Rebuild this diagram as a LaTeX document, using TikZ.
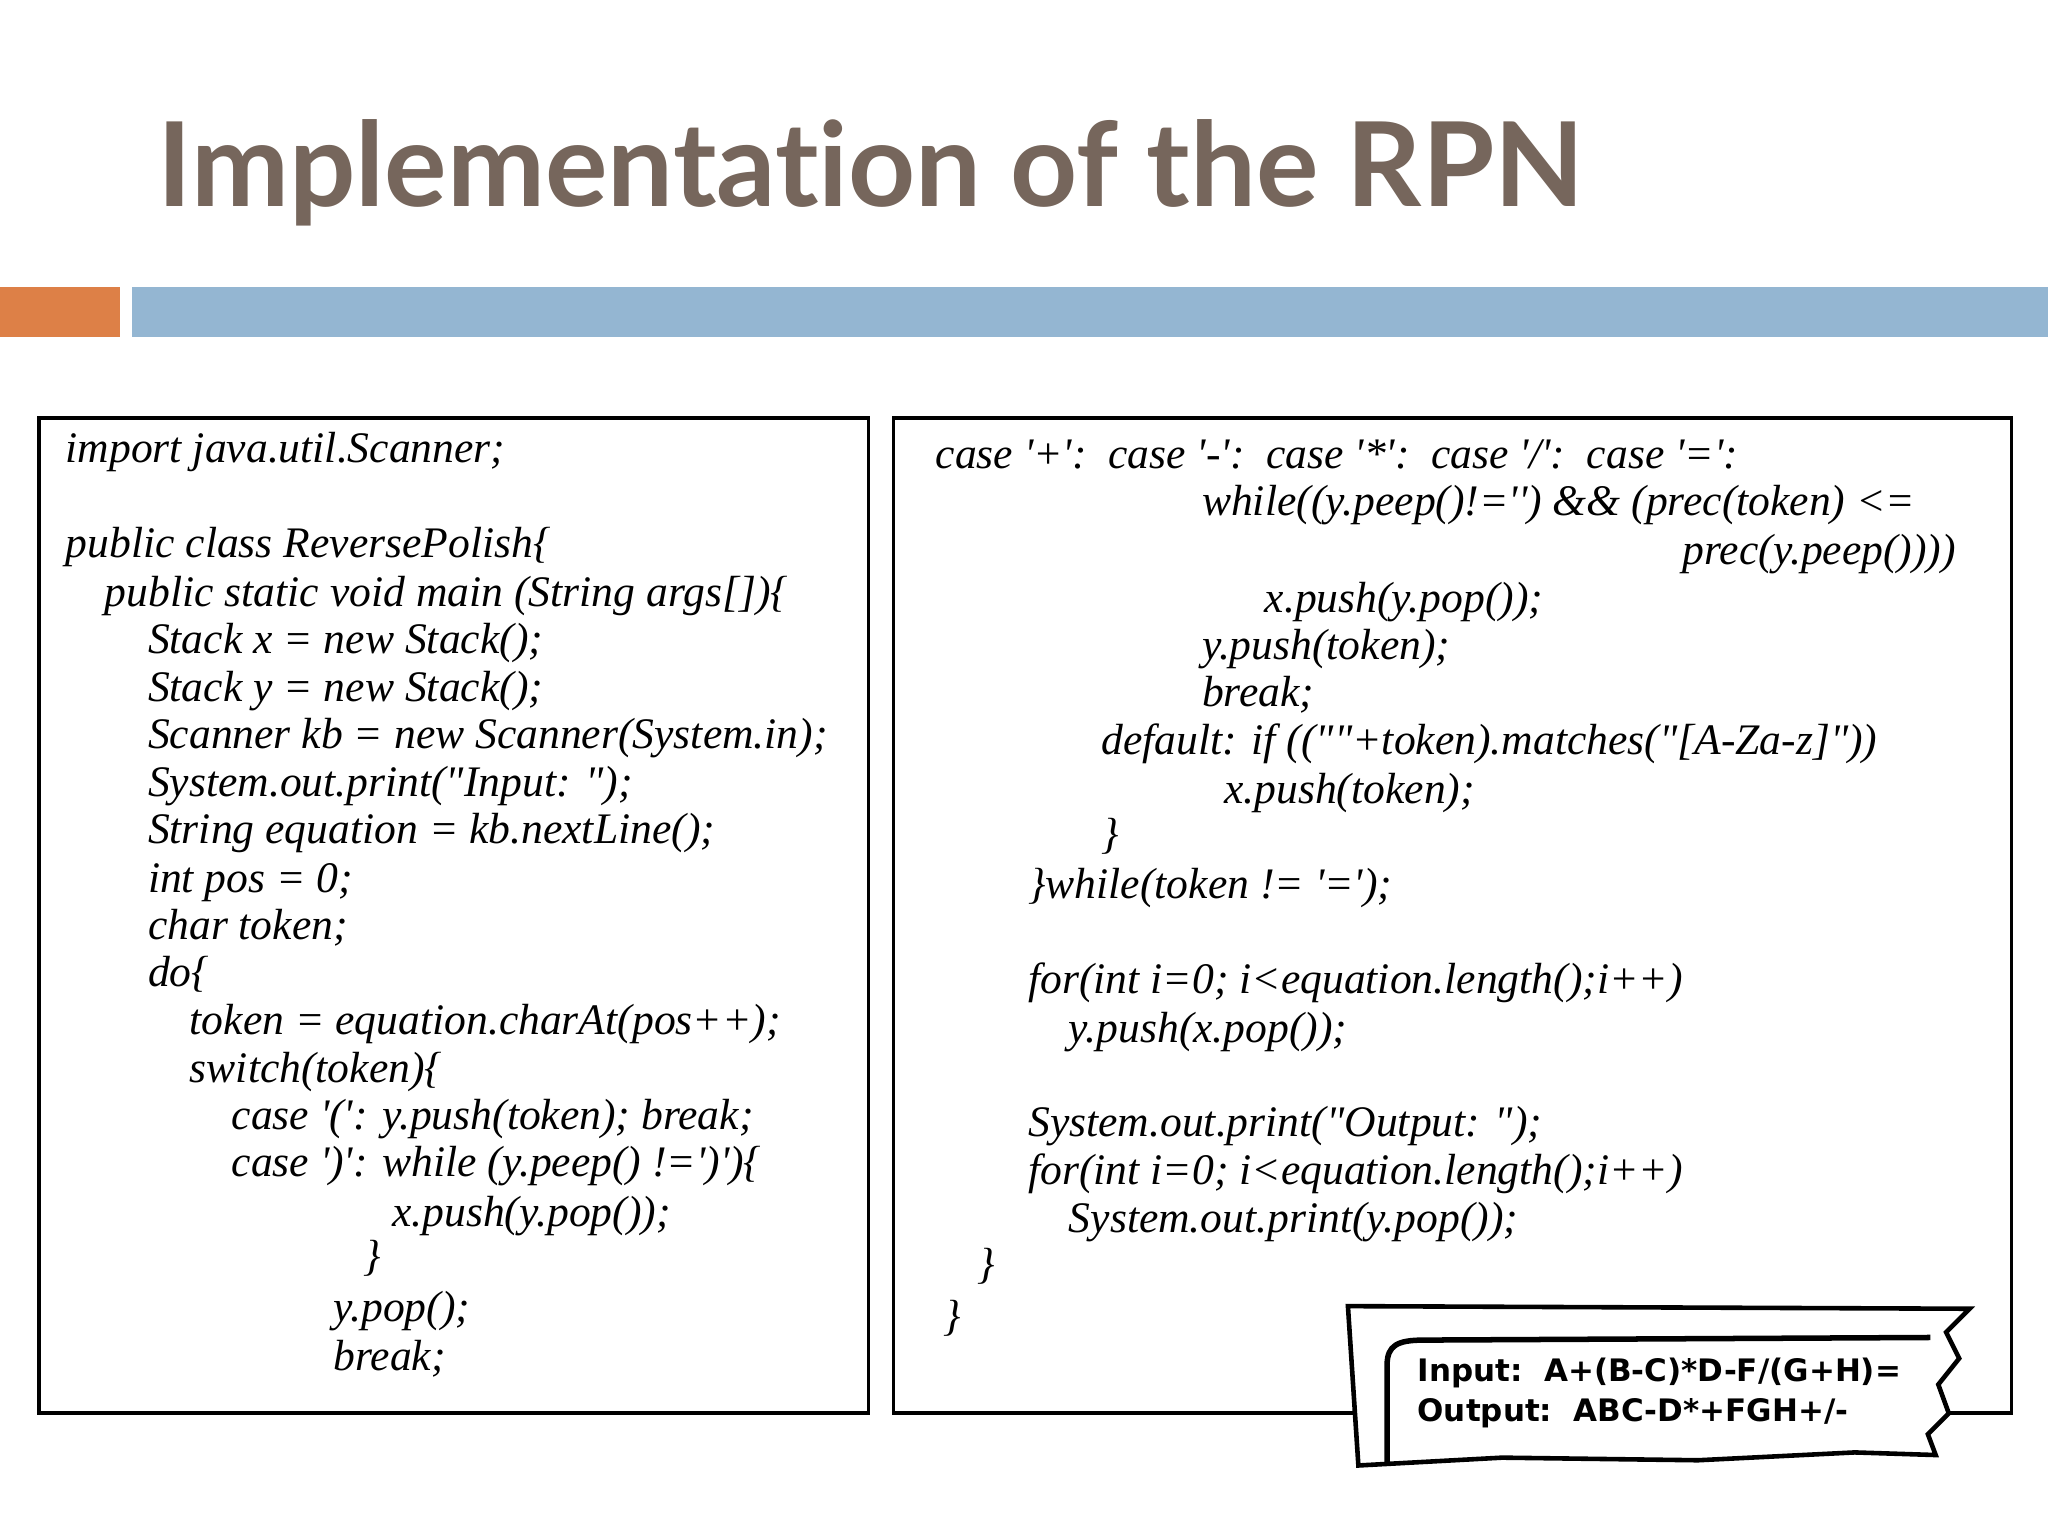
\documentclass[tikz,border=0pt]{standalone}
\usepackage{fontspec}
\setmainfont{Liberation Serif}
\newfontfamily\titlefont[Ligatures={NoCommon}]{Lato}
\newfontfamily\codefont{Liberation Serif}
\newfontfamily\paperfont{DejaVu Sans}
\definecolor{titlec}{HTML}{76665C}
\definecolor{orangebar}{HTML}{DD8047}
\definecolor{bluebar}{HTML}{94B6D2}
\tikzset{
 code/.style={anchor=base west, font=\codefont\itshape\fontsize{19}{19}\selectfont, inner sep=0pt},
 frame/.style={draw=black, line width=1.6pt},
 ptxt/.style={anchor=base west, font=\paperfont\bfseries\fontsize{13.5}{13.5}\selectfont, inner sep=0pt}
}
\begin{document}
\begin{tikzpicture}[x=0.02cm,y=-0.02cm]
\useasboundingbox (0,0) rectangle (1568,1176);
\fill[white] (0,0) rectangle (1568,1176);
\node[anchor=base west, inner sep=0, text=titlec, font=\titlefont\bfseries\fontsize{51}{51}\selectfont] (title) at (120,158) {Implementation of the RPN};
\fill[orangebar] (0,220) rectangle (92,258);
\fill[bluebar] (101,220) rectangle (1568,258);
% left box
\draw[frame] (30,320) rectangle (665,1082);
\node[code] (l1) at (50,354) {import java.util.Scanner;};
\node[code] (l2) at (50,427) {public class ReversePolish\{};
\node[code] (l3) at (80,464) {public static void main (String args[])\{};
\node[code] (l4) at (113,500) {Stack x = new Stack();};
\node[code] (l5) at (113,537) {Stack y = new Stack();};
\node[code] (l6) at (113,573) {Scanner kb = new Scanner(System.in);};
\node[code] (l7) at (113,610) {System.out.print("Input: ");};
\node[code] (l8) at (113,646) {String equation = kb.nextLine();};
\node[code] (l9) at (113,683) {int pos = 0;};
\node[code] (l10) at (113,719) {char token;};
\node[code] (l11) at (113,755) {do\{};
\node[code] (l12) at (145,792) {token = equation.charAt(pos++);};
\node[code] (l13) at (145,829) {switch(token)\{};
\node[code] (l14) at (177,865) {case '(': y.push(token); break;};
\node[code] (l15) at (177,901) {case ')': while (y.peep() !=')')\{};
\node[code] (l16) at (300,939) {x.push(y.pop());};
\node[code] (l17) at (278,973) {\}};
\node[code] (l18) at (255,1012) {y.pop();};
\node[code] (l19) at (255,1049) {break;};
% right box
\draw[frame] (684,320) rectangle (1540,1082);
\node[code] (r1) at (716,359) {case '+':\ \ case '-':\ \ case '*':\ \ case '/':\ \ case '=':};
\node[code] (r2) at (920,395) {while((y.peep()!='') \&\& (prec(token) <=};
\node[code] (r3) at (1288,432) {prec(y.peep())))};
\node[code] (r4) at (968,469) {x.push(y.pop());};
\node[code] (r5) at (920,505) {y.push(token);};
\node[code] (r6) at (920,541) {break;};
\node[code] (r7) at (843,578) {default: if ((""+token).matches("[A-Za-z]"))};
\node[code] (r8) at (937,615) {x.push(token);};
\node[code] (r9) at (843,650) {\}};
\node[code] (r10) at (787,688) {\}while(token != '=');};
\node[code] (r11) at (787,761) {for(int i=0; i<equation.length();i++)};
\node[code] (r12) at (818,798) {y.push(x.pop());};
\node[code] (r13) at (787,870) {System.out.print("Output: ");};
\node[code] (r14) at (787,907) {for(int i=0; i<equation.length();i++)};
\node[code] (r15) at (818,944) {System.out.print(y.pop());};
\node[code] (r16) at (748,979) {\}};
\node[code] (r17) at (722,1019) {\}};
% paper
\draw[line width=2pt, fill=white] (1032,1000) -- (1508,1002) -- (1490,1020) -- (1500,1040) -- (1484,1060) -- (1492,1082) -- (1476,1098) -- (1482,1114) -- (1420,1112) -- (1300,1118) -- (1150,1116) -- (1040,1122) -- cycle;
\draw[line width=2.4pt] (1062,1120) -- (1062,1045) .. controls (1062,1030) and (1070,1026) .. (1090,1026) -- (1478,1024);
\node[ptxt] (p1) at (1085,1058) {Input:\ \ A+(B-C)*D-F/(G+H)=};
\node[ptxt] (p2) at (1085,1088) {Output:\ \ ABC-D*+FGH+/-};
\end{tikzpicture}
\end{document}
